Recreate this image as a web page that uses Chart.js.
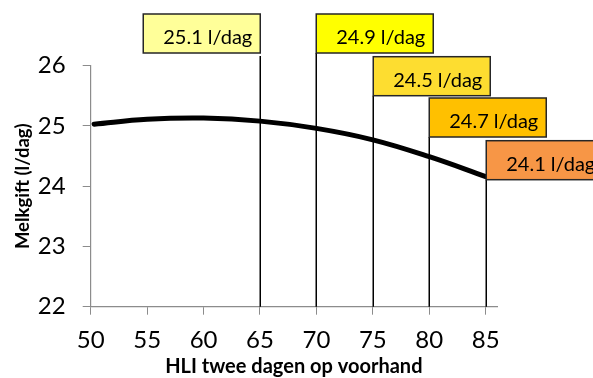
<!DOCTYPE html>
<html>
<head>
<meta charset="utf-8">
<script src="https://cdn.jsdelivr.net/npm/chart.js@4/dist/chart.umd.min.js"></script>
<style>
  html, body { margin: 0; padding: 0; background: #fff; }
  #wrap { width: 593px; height: 378px; }
</style>
</head>
<body>
<div id="wrap"><canvas id="c" width="593" height="378"></canvas></div>
<script>
// Milk yield against the heat load index two days ahead
const hliValues = [50.3, 55, 60, 65, 70, 75, 80, 85];
const milkYield = [25.03, 25.11, 25.13, 25.08, 24.96, 24.77, 24.49, 24.16];

// HLI thresholds with their callout labels
const markerHli = [65, 70, 75, 80, 85];
const markerLabels = ['25.1 l/dag', '24.9 l/dag', '24.5 l/dag', '24.7 l/dag', '24.1 l/dag'];

// Axis ticks
const xTicks = [50, 55, 60, 65, 70, 75, 80, 85];
const yTicks = [22, 23, 24, 25, 26];

const FONT = 'Lato, "Open Sans", sans-serif';
const AXIS_GREY = '#8c8c8c';

// Draws the vertical threshold lines and their coloured callout boxes
const calloutPlugin = {
  id: 'callouts',
  beforeDatasetsDraw(chart, args, opts) {
    const { ctx } = chart;
    const xs = chart.scales.x, ys = chart.scales.y;
    const yBase = ys.getPixelForValue(ys.min);
    ctx.save();
    ctx.strokeStyle = '#000';
    ctx.lineWidth = 1.5;
    markerHli.forEach((v, i) => {
      const x = Math.round(xs.getPixelForValue(v)) + 0.25;
      const yTop = opts.tops[i] + opts.height + opts.gaps[i];
      ctx.beginPath();
      ctx.moveTo(x, yBase);
      ctx.lineTo(x, yTop);
      ctx.stroke();
    });
    ctx.restore();
  },
  afterDatasetsDraw(chart, args, opts) {
    const { ctx } = chart;
    const xs = chart.scales.x;
    ctx.save();
    ctx.font = opts.font;
    ctx.textAlign = 'right';
    ctx.textBaseline = 'alphabetic';
    markerHli.forEach((v, i) => {
      const x = Math.round(xs.getPixelForValue(v)) + 0.25;
      const left = opts.sides[i] === 'left' ? x - opts.width : x;
      const top = opts.tops[i];
      ctx.fillStyle = opts.fills[i];
      ctx.fillRect(left, top, opts.width, opts.height);
      ctx.strokeStyle = '#262626';
      ctx.lineWidth = 1.5;
      ctx.strokeRect(left, top, opts.width, opts.height);
      ctx.fillStyle = '#000';
      ctx.fillText(markerLabels[i], left + opts.width - 8, top + opts.height - 9);
    });
    ctx.restore();
  }
};

new Chart(document.getElementById('c'), {
  type: 'scatter',
  data: {
    datasets: [{
      data: hliValues.map((x, i) => ({ x, y: milkYield[i] })),
      showLine: true,
      borderColor: '#000',
      borderWidth: 5,
      borderCapStyle: 'round',
      tension: 0.4,
      pointRadius: 0,
      pointHoverRadius: 0
    }]
  },
  plugins: [calloutPlugin],
  options: {
    responsive: false,
    animation: false,
    devicePixelRatio: 1,
    layout: { padding: { left: 0, top: 65.7, right: 96, bottom: 0 } },
    plugins: {
      legend: { display: false },
      tooltip: { enabled: false },
      callouts: {
        font: '20px ' + FONT,
        width: 117,
        height: 39,
        tops: [14, 14, 56.7, 98, 140.7],
        gaps: [3, 0, 0, 0, 0],
        sides: ['left', 'right', 'right', 'right', 'right'],
        fills: ['#FFFF99', '#FFFF00', '#FDDD30', '#FFC000', '#F79646']
      }
    },
    scales: {
      x: {
        type: 'linear',
        min: 50,
        max: 86,
        afterBuildTicks: s => { s.ticks = xTicks.map(v => ({ value: v })); },
        afterFit: s => { s.height = 71.3; },
        ticks: { color: '#000', font: { family: FONT, size: 24 }, padding: 11, maxRotation: 0 },
        grid: { drawOnChartArea: false, drawTicks: true, tickLength: 8, color: AXIS_GREY, lineWidth: 1 },
        border: { color: AXIS_GREY, width: 1.2 },
        title: {
          display: true,
          text: 'HLI twee dagen op voorhand',
          color: '#000',
          font: { family: FONT, size: 20, weight: 'bold' },
          padding: { top: 0, bottom: -1 }
        }
      },
      y: {
        type: 'linear',
        min: 22,
        max: 26,
        afterBuildTicks: s => { s.ticks = yTicks.map(v => ({ value: v })); },
        afterFit: s => { s.width = 90.7; },
        ticks: { color: '#000', font: { family: FONT, size: 24 }, padding: 17 },
        grid: { drawOnChartArea: false, drawTicks: true, tickLength: 8, color: AXIS_GREY, lineWidth: 1 },
        border: { color: AXIS_GREY, width: 1.2 },
        title: {
          display: true,
          text: 'Melkgift (l/dag)',
          color: '#000',
          font: { family: FONT, size: 18.5, weight: 'bold' },
          padding: { top: 12, bottom: 0 }
        }
      }
    }
  }
});
</script>
</body>
</html>
